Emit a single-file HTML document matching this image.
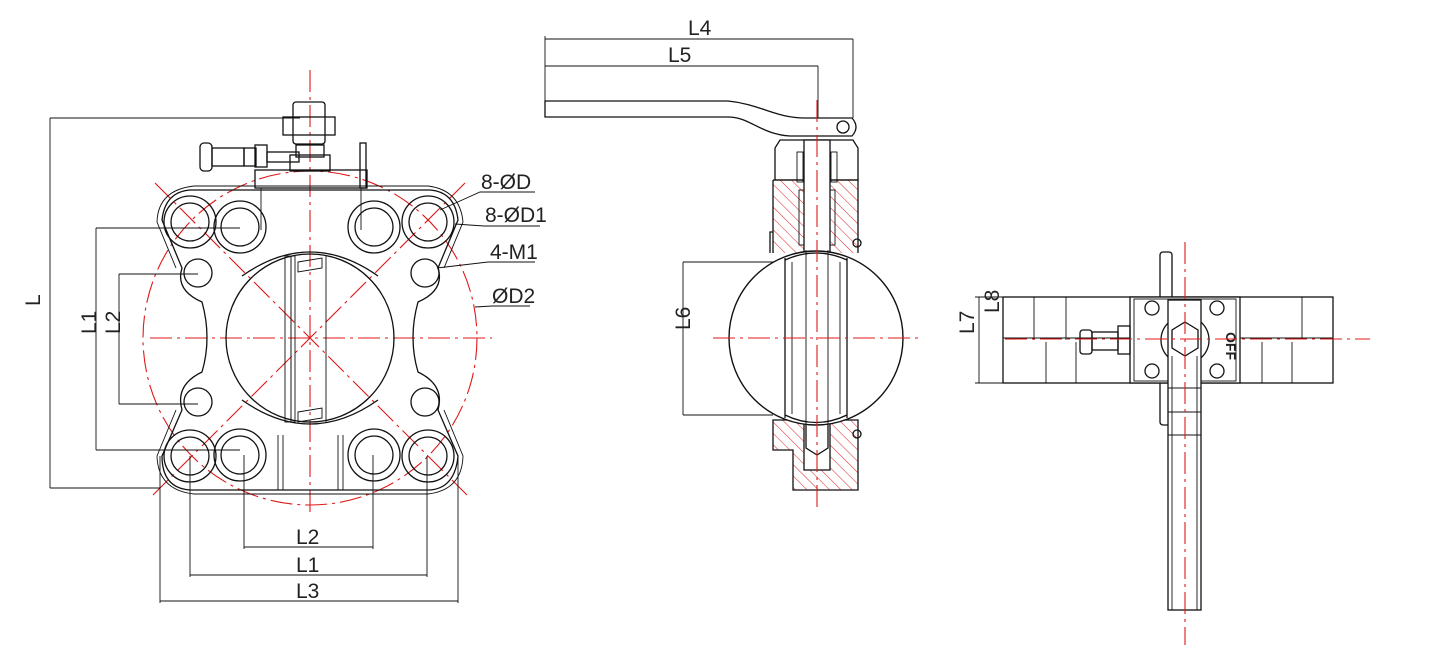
<!DOCTYPE html>
<html><head><meta charset="utf-8"><style>
html,body{margin:0;padding:0;background:#fff;}
svg{display:block}
text{font-family:"Liberation Sans",sans-serif;font-size:21px;fill:#222;font-weight:normal}
.k{stroke:#111;stroke-width:1.3;fill:none}
.t{stroke:#111;stroke-width:0.9;fill:none}
.r{stroke:#e01818;stroke-width:1.1;fill:none;stroke-dasharray:22 5 3 5}
</style></head><body>
<svg width="1431" height="653" viewBox="0 0 1431 653" xmlns="http://www.w3.org/2000/svg">
<defs>
<pattern id="hat" width="8" height="8" patternUnits="userSpaceOnUse" patternTransform="rotate(-45)">
<line x1="0" y1="0" x2="0" y2="8" stroke="#e03030" stroke-width="1.1"/>
</pattern>
</defs>

<!-- ================= LEFT VIEW ================= -->
<line class="r" x1="310" y1="70" x2="310" y2="515"/>
<line class="r" x1="253" y1="338" x2="492" y2="338"/>
<line class="r" x1="150" y1="338" x2="253" y2="338"/>
<circle class="r" cx="310" cy="338" r="167"/>
<line class="r" x1="155" y1="183" x2="467" y2="495"/>
<line class="r" x1="465" y1="183" x2="153" y2="495"/>

<path class="k" d="M190,190 L430,190 Q455,192 458,220 L438,268 Q445,290 418,302 Q408,338 418,372 Q445,385 438,410 L458,456 Q455,488 430,490 L190,490 Q162,488 162,456 L182,410 Q175,385 202,372 Q212,338 202,302 Q175,290 182,268 L162,220 Q165,192 190,190 Z"/>
<path class="t" d="M194,186 L428,186 Q460,190 463,222 L444,268 M194,186 Q158,190 157,222 L176,268 M176,410 L157,456 Q158,490 194,494 L428,494 Q462,490 463,456 L444,410"/>
<rect class="k" x="255" y="170" width="112" height="18"/>
<line class="t" x1="261" y1="188" x2="261" y2="230"/><line class="t" x1="361" y1="188" x2="361" y2="230"/>
<rect class="k" x="360" y="143" width="6" height="45"/>
<rect class="k" x="290" y="155" width="40" height="16"/>
<rect class="k" x="296" y="145" width="28" height="12"/>
<rect class="k" x="283" y="117" width="52" height="18"/>
<rect class="k" x="293" y="102" width="32" height="42" rx="3"/>
<rect class="k" x="267" y="152" width="32" height="10"/>
<rect class="k" x="255" y="145" width="12" height="22"/>
<rect class="k" x="244" y="148" width="12" height="18"/>
<rect class="k" x="212" y="148" width="32" height="18"/>
<rect class="k" x="200" y="143" width="12" height="28" rx="4"/>
<line class="t" x1="278" y1="435" x2="278" y2="490"/><line class="t" x1="283" y1="435" x2="283" y2="490"/>
<line class="t" x1="338" y1="435" x2="338" y2="490"/><line class="t" x1="343" y1="435" x2="343" y2="490"/>
<circle class="k" cx="310" cy="338" r="84"/>
<path class="k" d="M242,276 Q310,228 378,276 M242,400 Q310,448 378,400"/>
<rect class="t" x="285" y="256" width="6" height="166"/>
<rect class="t" x="291" y="256" width="4" height="166"/>
<line class="t" x1="326" y1="256" x2="326" y2="422"/>
<path class="t" d="M298,262 L322,258 L322,268 L298,272 Z M298,412 L322,408 L322,418 L298,422 Z"/>
<g class="k">
<circle cx="190" cy="222" r="19"/><circle cx="190" cy="222" r="26"/>
<circle cx="240" cy="227" r="19"/><circle cx="240" cy="227" r="26"/>
<circle cx="374" cy="227" r="19"/><circle cx="374" cy="227" r="26"/>
<circle cx="428" cy="222" r="19"/><circle cx="428" cy="222" r="26"/>
<circle cx="190" cy="456" r="19"/><circle cx="190" cy="456" r="26"/>
<circle cx="240" cy="455" r="19"/><circle cx="240" cy="455" r="26"/>
<circle cx="374" cy="455" r="19"/><circle cx="374" cy="455" r="26"/>
<circle cx="428" cy="456" r="19"/><circle cx="428" cy="456" r="26"/>
<circle cx="198" cy="273" r="14"/><circle cx="425" cy="273" r="14"/>
<circle cx="198" cy="402" r="14"/><circle cx="425" cy="402" r="14"/>
</g>
<g class="t">
<line x1="50" y1="118" x2="300" y2="118"/><line x1="50" y1="118" x2="50" y2="488"/><line x1="50" y1="488" x2="160" y2="488"/>
<line x1="96" y1="228" x2="240" y2="228"/><line x1="96" y1="228" x2="96" y2="450"/><line x1="96" y1="450" x2="240" y2="450"/>
<line x1="119" y1="274" x2="198" y2="274"/><line x1="119" y1="274" x2="119" y2="404"/><line x1="119" y1="404" x2="198" y2="404"/>
<line x1="160" y1="456" x2="160" y2="603"/><line x1="458" y1="456" x2="458" y2="603"/><line x1="160" y1="601" x2="458" y2="601"/>
<line x1="190" y1="456" x2="190" y2="577"/><line x1="427" y1="456" x2="427" y2="577"/><line x1="190" y1="575" x2="427" y2="575"/>
<line x1="244" y1="455" x2="244" y2="549"/><line x1="373" y1="455" x2="373" y2="549"/><line x1="244" y1="547" x2="373" y2="547"/>
<polyline points="440,210 480,192 535,192"/>
<polyline points="455,224 484,226 540,226"/>
<polyline points="437,268 488,262 535,262"/>
<polyline points="475,307 492,306 530,306"/>
</g>
<text x="34" y="300" transform="rotate(-90 40 300)">L</text>
<text x="92" y="350" transform="rotate(-90 86 340)">L1</text>
<text x="116" y="350" transform="rotate(-90 110 340)">L2</text>
<text x="296" y="544">L2</text>
<text x="296" y="572">L1</text>
<text x="296" y="598">L3</text>
<text x="481" y="189">8-ØD</text>
<text x="485" y="222">8-ØD1</text>
<text x="490" y="259">4-M1</text>
<text x="492" y="303">ØD2</text>

<!-- ================= MIDDLE VIEW ================= -->
<g class="t">
<line x1="545" y1="39" x2="853" y2="39"/><line x1="545" y1="66" x2="818" y2="66"/>
<line x1="545" y1="36" x2="545" y2="117"/><line x1="853" y1="39" x2="853" y2="118"/>
<line x1="818" y1="66" x2="818" y2="118"/>
<line x1="683" y1="262" x2="773" y2="262"/><line x1="683" y1="262" x2="683" y2="415"/><line x1="683" y1="415" x2="773" y2="415"/>
</g>
<text x="688" y="35">L4</text>
<text x="668" y="62">L5</text>
<text x="690" y="350" transform="rotate(-90 680 340)">L6</text>
<path class="k" d="M545,101 L728,101 C760,104 775,118 805,118 L852,118 Q860,127 852,136 L790,136 C760,134 750,117 728,117 L545,117 Z"/>
<circle class="k" cx="843" cy="127" r="6"/>
<path class="k" d="M780,140 L853,140 L858,148 L858,180 L775,180 L775,148 Z"/>
<rect x="773" y="180" width="85" height="73" style="fill:url(#hat)"/>
<path class="k" d="M773,180 L858,180 L858,253 M773,180 L773,253 M773,232 L770,232 L770,253"/>
<path d="M773,420 L858,420 L858,490 L793,490 L793,450 L773,450 Z" style="fill:url(#hat);stroke:#111;stroke-width:1.3"/>
<rect x="804" y="140" width="26" height="330" style="fill:#fff;stroke:#111;stroke-width:1.3"/>
<path d="M806,420 L806,448 L817,455 L828,448 L828,420" style="fill:#fff;stroke:#111;stroke-width:1.3"/>
<g class="t">
<rect x="797" y="152" width="6" height="30"/><rect x="831" y="152" width="6" height="30"/>
<rect x="799" y="190" width="5" height="55"/><rect x="830" y="190" width="5" height="55"/>
</g>
<circle class="k" cx="857" cy="243" r="4"/><circle class="k" cx="857" cy="434" r="4"/>
<circle cx="816" cy="338" r="87" style="fill:#fff;stroke:#111;stroke-width:1.4"/>
<path class="k" d="M785,260 Q816,246 847,260 M785,415 Q816,430 847,415"/>
<line class="k" x1="785" y1="258" x2="785" y2="418"/><line class="t" x1="792" y1="262" x2="792" y2="414"/>
<line class="k" x1="847" y1="258" x2="847" y2="418"/><line class="t" x1="840" y1="262" x2="840" y2="414"/>
<line class="t" x1="806" y1="250" x2="806" y2="425"/><line class="t" x1="828" y1="250" x2="828" y2="425"/>
<line class="r" x1="817" y1="100" x2="817" y2="512"/>
<line class="r" x1="713" y1="338" x2="920" y2="338"/>

<!-- ================= RIGHT VIEW ================= -->
<g class="t">
<line x1="975" y1="297" x2="1003" y2="297"/><line x1="975" y1="383" x2="1003" y2="383"/>
<line x1="979" y1="297" x2="979" y2="383"/><line x1="1003" y1="297" x2="1003" y2="340"/>
</g>
<text x="970" y="350" transform="rotate(-90 964 340)">L7</text>
<text x="997" y="325" transform="rotate(-90 992 318)">L8</text>
<rect class="k" x="1160" y="252" width="12" height="173" rx="3" style="fill:#fff"/>
<rect x="1003" y="297" width="330" height="86" style="fill:#fff;stroke:#111;stroke-width:1.3"/>
<g class="t">
<line x1="1034" y1="297" x2="1034" y2="340"/><line x1="1066" y1="297" x2="1066" y2="340"/>
<line x1="1003" y1="338" x2="1130" y2="338"/><line x1="1240" y1="338" x2="1333" y2="338"/>
<line x1="1046" y1="342" x2="1046" y2="383"/><line x1="1076" y1="342" x2="1076" y2="383"/>
<line x1="1262" y1="342" x2="1262" y2="383"/><line x1="1292" y1="342" x2="1292" y2="383"/>
<line x1="1302" y1="297" x2="1302" y2="338"/>
</g>
<rect x="1130" y="297" width="110" height="86" style="fill:#fff;stroke:#111;stroke-width:1.3"/>
<rect class="t" x="1134" y="299" width="102" height="82"/>
<g class="k">
<circle cx="1152" cy="308" r="7"/><circle cx="1217" cy="308" r="7"/>
<circle cx="1152" cy="371" r="7"/><circle cx="1217" cy="371" r="7"/>
<circle cx="1185" cy="340" r="24"/>
<rect x="1080" y="330" width="12" height="24" rx="3"/>
<rect x="1092" y="332" width="26" height="18"/>
<rect x="1118" y="326" width="12" height="28"/>
</g>
<rect x="1168" y="300" width="33" height="310" style="fill:#fff;stroke:#111;stroke-width:1.3"/>
<polygon class="k" points="1185,322 1198,330 1198,348 1185,356 1172,348 1172,330" style="fill:#fff"/>
<line class="t" x1="1172" y1="356" x2="1172" y2="610"/><line class="t" x1="1197" y1="356" x2="1197" y2="610"/>
<line class="t" x1="1168" y1="388" x2="1201" y2="388"/><line class="t" x1="1168" y1="412" x2="1201" y2="412"/><line class="t" x1="1168" y1="435" x2="1201" y2="435"/>
<text x="1214" y="336" transform="rotate(90 1222 340)" style="font-size:14px;font-weight:bold">OFF</text>
<line class="r" x1="1185" y1="242" x2="1185" y2="645"/>
<line class="r" x1="1005" y1="339" x2="1370" y2="339"/>
</svg>
</body></html>
